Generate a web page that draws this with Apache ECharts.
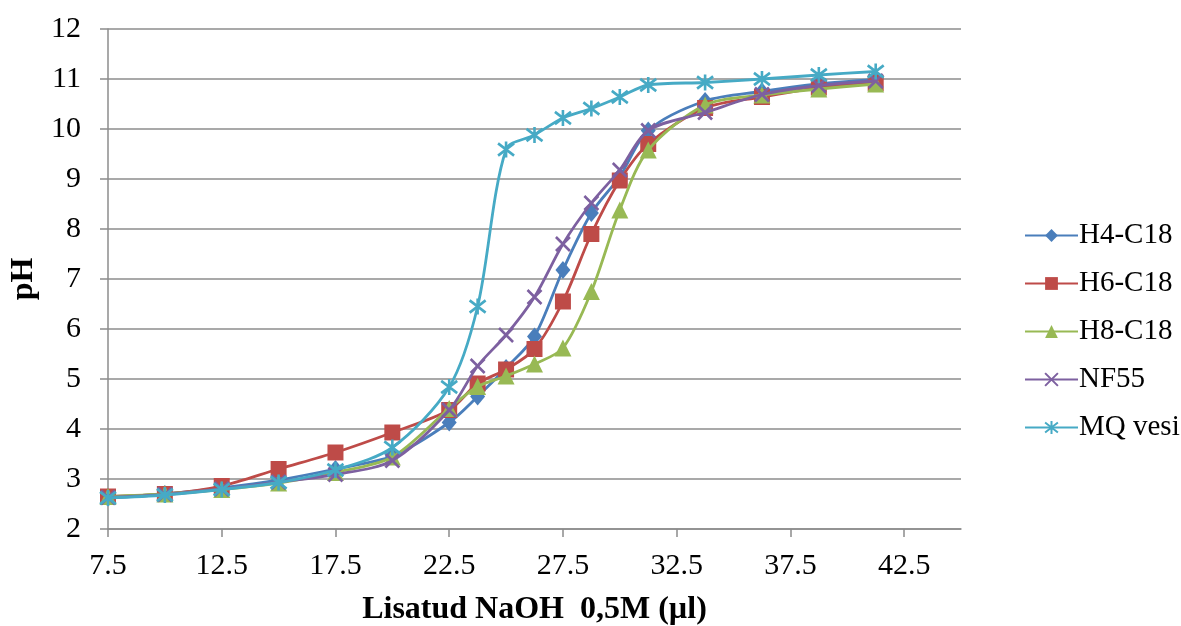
<!DOCTYPE html>
<html>
<head>
<meta charset="utf-8">
<script src="https://cdn.jsdelivr.net/npm/echarts@6/dist/echarts.min.js"></script>
<style>
html,body{margin:0;padding:0;background:#fff;}
#chart{width:1181px;height:626px;}
</style>
</head>
<body>
<div id="chart"></div>
<script>
// ---- data ----
const xValues = [7.5, 10, 12.5, 15, 17.5, 20, 22.5, 23.75, 25, 26.25, 27.5, 28.75, 30, 31.25, 33.75, 36.25, 38.75, 41.25];
const h4c18 = [2.63, 2.70, 2.82, 2.98, 3.20, 3.46, 4.13, 4.65, 5.22, 5.85, 7.18, 8.32, 9.05, 9.97, 10.56, 10.75, 10.90, 10.99];
const h6c18 = [2.65, 2.70, 2.86, 3.20, 3.53, 3.93, 4.38, 4.91, 5.19, 5.60, 6.55, 7.90, 8.97, 9.70, 10.42, 10.64, 10.83, 10.92];
const h8c18 = [2.65, 2.70, 2.79, 2.92, 3.13, 3.44, 4.41, 4.85, 5.06, 5.30, 5.62, 6.75, 8.38, 9.58, 10.48, 10.68, 10.80, 10.90];
const nf55  = [2.63, 2.69, 2.80, 2.94, 3.09, 3.37, 4.38, 5.26, 5.88, 6.64, 7.70, 8.52, 9.18, 9.97, 10.33, 10.69, 10.87, 10.96];
const mqVesi = [2.62, 2.68, 2.79, 2.93, 3.18, 3.63, 4.84, 6.45, 9.59, 9.88, 10.22, 10.41, 10.64, 10.88, 10.93, 11.00, 11.08, 11.15];
const xTicks = [7.5, 12.5, 17.5, 22.5, 27.5, 32.5, 37.5, 42.5];
const seriesNames = ['H4-C18', 'H6-C18', 'H8-C18', 'NF55', 'MQ vesi'];
const xAxisTitle = 'Lisatud NaOH  0,5M (µl)';
const yAxisTitle = 'pH';

const FONT = "'Liberation Serif', 'Times New Roman', serif";
const colors = ['#4A7EBB', '#BE4B48', '#98B954', '#7D60A0', '#46AAC5'];
const symX = 'path://M0,0L10,10M10,0L0,10';
const symStar = 'path://M0,0L10,10M10,0L0,10M5,-1.5L5,11.5';

function pairs(ys){ return xValues.map((x,i)=>[x, ys[i]]); }

const allData = [h4c18, h6c18, h8c18, nf55, mqVesi];
const symbols = ['diamond', 'rect', 'triangle', symX, symStar];
const symSizes = [[15,18], 16, 17, 14, 16];

const series = allData.map((d, i) => {
  const isPath = i >= 3;
  return {
    name: seriesNames[i],
    type: 'line',
    data: pairs(d),
    smooth: 0.3,
    symbol: symbols[i],
    symbolSize: symSizes[i],
    showAllSymbol: true,
    lineStyle: { color: colors[i], width: 2.8 },
    itemStyle: isPath
      ? { color: colors[i], borderColor: colors[i], borderWidth: 2.6 }
      : { color: colors[i], borderColor: colors[i], borderWidth: 0 },
    emphasis: { disabled: true },
    z: 2 + i
  };
});

const chart = echarts.init(document.getElementById('chart'), null, { renderer: 'canvas' });
chart.setOption({
  animation: false,
  backgroundColor: '#ffffff',
  textStyle: { fontFamily: FONT },
  grid: { left: 108, top: 29, right: 220, bottom: 97, containLabel: false, outerBoundsMode: 'none' },
  legend: {
    orient: 'vertical',
    left: 1019,
    top: 216,
    itemWidth: 53,
    itemHeight: 16,
    itemGap: 19,
    textStyle: { fontFamily: FONT, fontSize: 29, color: '#000', padding: [0,0,0,-4] },
    data: seriesNames
  },
  xAxis: {
    type: 'value',
    min: 7.5,
    max: 45,
    interval: 5,
    name: xAxisTitle,
    nameLocation: 'middle',
    nameGap: 65,
    nameTextStyle: { fontFamily: FONT, fontSize: 32, fontWeight: 'bold', color: '#000' },
    axisLine: { show: true, lineStyle: { color: '#8c8c8c', width: 1.5 } },
    axisTick: { show: true, inside: false, length: 8, lineStyle: { color: '#8c8c8c', width: 1.5 }, customValues: xTicks },
    axisLabel: { fontFamily: FONT, fontSize: 30, color: '#000', margin: 22, customValues: xTicks,
      formatter: v => String(v) },
    splitLine: { show: false }
  },
  yAxis: {
    type: 'value',
    min: 2,
    max: 12,
    interval: 1,
    name: yAxisTitle,
    nameLocation: 'middle',
    nameGap: 65,
    nameRotate: 90,
    nameTextStyle: { fontFamily: FONT, fontSize: 32, fontWeight: 'bold', color: '#000' },
    axisLine: { show: true, lineStyle: { color: '#8c8c8c', width: 1.5 } },
    axisTick: { show: true, inside: false, length: 8, lineStyle: { color: '#8c8c8c', width: 1.5 } },
    axisLabel: { fontFamily: FONT, fontSize: 30, color: '#000', margin: 27 },
    splitLine: { show: true, lineStyle: { color: '#8c8c8c', width: 1.5 } }
  },
  series: series
});
</script>
</body>
</html>
